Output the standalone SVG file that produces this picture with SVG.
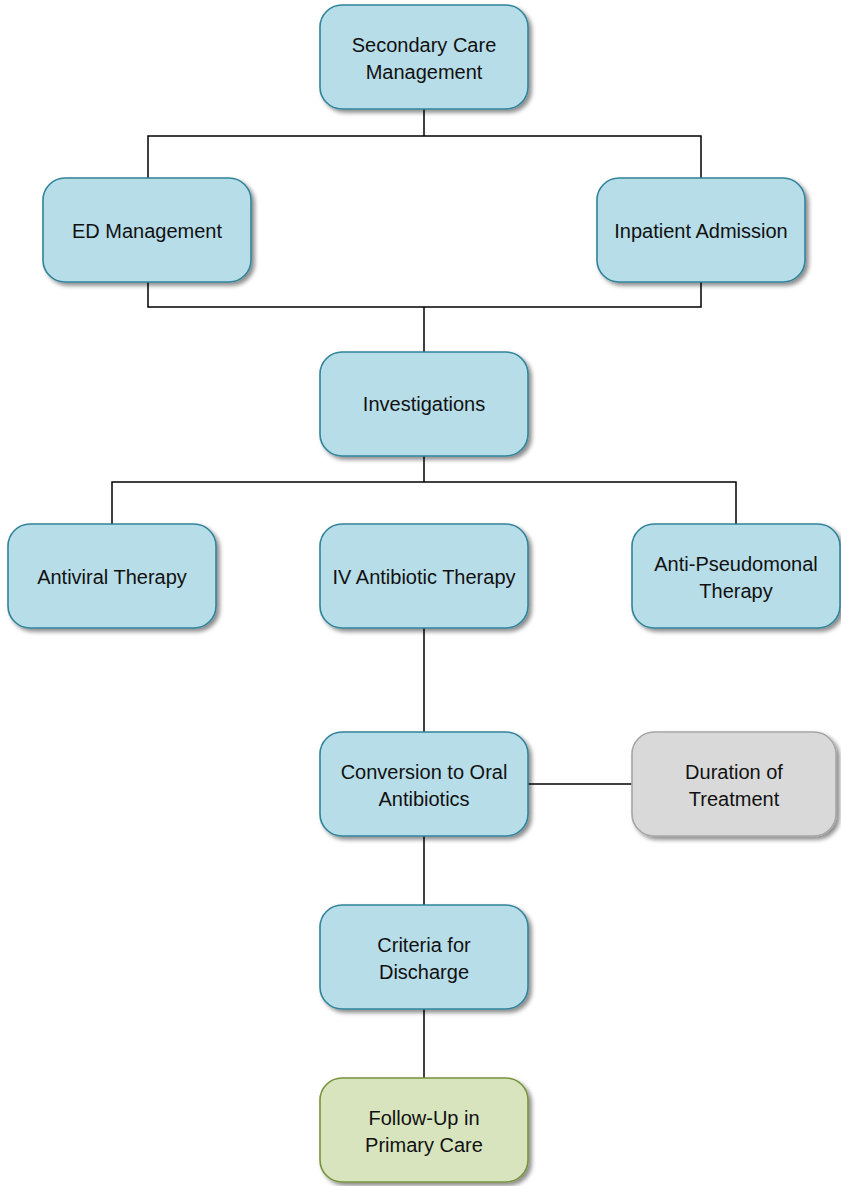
<svg xmlns="http://www.w3.org/2000/svg" width="841" height="1186" viewBox="0 0 841 1186">
<defs>
<filter id="sh" x="-10%" y="-10%" width="130%" height="130%">
<feDropShadow dx="3" dy="3" stdDeviation="2.2" flood-color="#000" flood-opacity="0.45"/>
</filter>
<style>
.n rect{stroke-width:1.6;filter:url(#sh)}
.b rect{fill:#b7dde8;stroke:#31849b}
.g rect{fill:#d9d9d9;stroke:#a6a6a6}
.gr rect{fill:#d7e4bd;stroke:#77933c}
.n text{font-family:"Liberation Sans",Arial,sans-serif;font-size:20px;fill:#111;text-anchor:middle}
#connectors path{fill:none;stroke:#000;stroke-width:1.5}
</style>
</defs>
<rect width="841" height="1186" fill="#fff"/>
<g id="connectors">
<path d="M424 109V136M148 178V136H701V178"/>
<path d="M148 282V307H701V282M424 307V352"/>
<path d="M424 456V482M112 524V482H736V524"/>
<path d="M424 628V732"/>
<path d="M528 784H632"/>
<path d="M424 836V905"/>
<path d="M424 1009V1078"/>
</g>
<g id="secondary" class="n b"><rect x="320" y="5" width="208" height="104" rx="22"/><text x="424" y="52">Secondary Care</text><text x="424" y="79">Management</text></g>
<g id="ed" class="n b"><rect x="43" y="178" width="208" height="104" rx="22"/><text x="147" y="238">ED Management</text></g>
<g id="inpatient" class="n b"><rect x="597" y="178" width="208" height="104" rx="22"/><text x="701" y="238">Inpatient Admission</text></g>
<g id="investigations" class="n b"><rect x="320" y="352" width="208" height="104" rx="22"/><text x="424" y="411">Investigations</text></g>
<g id="antiviral" class="n b"><rect x="8" y="524" width="208" height="104" rx="22"/><text x="112" y="584">Antiviral Therapy</text></g>
<g id="iv" class="n b"><rect x="320" y="524" width="208" height="104" rx="22"/><text x="424" y="584">IV Antibiotic Therapy</text></g>
<g id="antipseudo" class="n b"><rect x="632" y="524" width="208" height="104" rx="22"/><text x="736" y="571">Anti-Pseudomonal</text><text x="736" y="598">Therapy</text></g>
<g id="conversion" class="n b"><rect x="320" y="732" width="208" height="104" rx="22"/><text x="424" y="779">Conversion to Oral</text><text x="424" y="806">Antibiotics</text></g>
<g id="duration" class="n g"><rect x="632" y="732" width="204" height="104" rx="22"/><text x="734" y="779">Duration of</text><text x="734" y="806">Treatment</text></g>
<g id="criteria" class="n b"><rect x="320" y="905" width="208" height="104" rx="22"/><text x="424" y="952">Criteria for</text><text x="424" y="979">Discharge</text></g>
<g id="followup" class="n gr"><rect x="320" y="1078" width="208" height="104" rx="22"/><text x="424" y="1125">Follow-Up in</text><text x="424" y="1152">Primary Care</text></g>
</svg>
